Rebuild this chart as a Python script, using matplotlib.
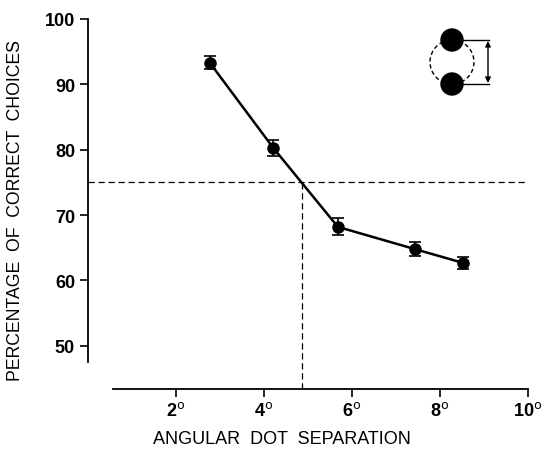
import numpy as np
import matplotlib
matplotlib.use('Agg')
import matplotlib.pyplot as plt
from matplotlib.patches import Circle

plt.rcParams['font.family'] = ['Liberation Sans', 'DejaVu Sans']

# data
separation = [2.78, 4.22, 5.69, 7.44, 8.53]
percent = [93.3, 80.3, 68.2, 64.8, 62.7]
err = [1.0, 1.2, 1.3, 1.1, 0.9]
threshold = 75
threshold_sep = 4.87

xticks = [2, 4, 6, 8, 10]
yticks = [50, 60, 70, 80, 90, 100]

fig = plt.figure(figsize=(5.5, 4.52), dpi=100)
ax = fig.add_axes([87.5/550, 1-390/452, 440/550, 370/452])

ax.errorbar(separation, percent, yerr=err, color='black', lw=1.8,
            marker='o', ms=8, capsize=4, elinewidth=1.2, capthick=1.2)

# 75% criterion lines
ax.plot([0, 10], [threshold, threshold], '--', color='black', lw=0.9, dashes=(5, 3))
ax.plot([threshold_sep, threshold_sep], [43.4, threshold], '--', color='black',
        lw=0.9, dashes=(5, 3))

ax.set_xlim(0, 10)
ax.set_ylim(43.4, 100)
ax.spines['top'].set_visible(False)
ax.spines['right'].set_visible(False)
ax.spines['left'].set_bounds(47.5, 100)
ax.spines['bottom'].set_bounds(0.57, 10)
ax.spines['left'].set_linewidth(1.3)
ax.spines['bottom'].set_linewidth(1.3)

ax.set_yticks(yticks)
ax.set_yticklabels([str(v) for v in yticks], fontsize=13, fontweight='bold')
ax.set_xticks(xticks)
ax.set_xticklabels([r'%d$^{\mathrm{o}}$' % v for v in xticks], fontsize=13,
                   fontweight='bold')
ax.tick_params(direction='out', length=6, width=1.2, pad=3)

ax.set_ylabel('PERCENTAGE  OF  CORRECT  CHOICES', fontsize=12.7)
ax.yaxis.set_label_coords(-0.145, 0.486)
ax.set_xlabel('ANGULAR  DOT  SEPARATION', fontsize=13)
ax.xaxis.set_label_coords(0.442, -0.111)

# inset: the two-dot stimulus
ins = fig.add_axes([420/550, 1-110/452, 80/550, 100/452])
ins.set_xlim(420, 500)
ins.set_ylim(110, 10)
ins.set_aspect('equal')
ins.axis('off')
ins.add_patch(Circle((452, 63), 22, fill=False, ls=(0, (3, 2)), lw=1.0))
ins.add_patch(Circle((452, 41), 11, color='black'))
ins.add_patch(Circle((452, 85), 11, color='black'))
ins.plot([452, 489], [41, 41], color='black', lw=1.0)
ins.plot([452, 489], [85, 85], color='black', lw=1.0)
ins.annotate('', xy=(488, 42), xytext=(488, 84),
             arrowprops=dict(arrowstyle='<|-|>', color='black', lw=1.0,
                             mutation_scale=8, shrinkA=0, shrinkB=0))

fig.savefig('out.png', dpi=100)
